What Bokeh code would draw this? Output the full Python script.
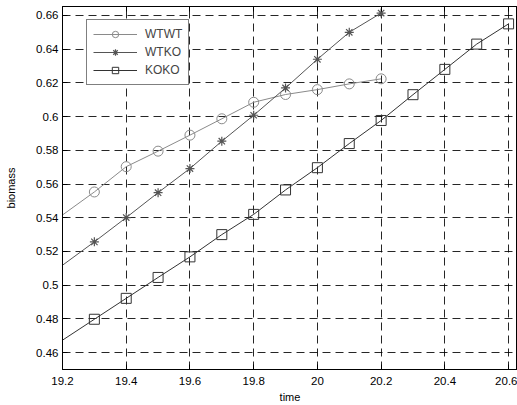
from bokeh.plotting import figure
from bokeh.models import FixedTicker, LinearAxis, Range1d, Legend, LegendItem
from bokeh.embed import file_html
from bokeh.resources import INLINE

time_wtwt = [19.1, 19.3, 19.4, 19.5, 19.6, 19.7, 19.8, 19.9, 20.0, 20.1, 20.2]
wtwt = [0.528, 0.5553, 0.5703, 0.5795, 0.589, 0.5987, 0.6085, 0.6131, 0.616, 0.6194, 0.6224]
time_wtko = [19.1, 19.3, 19.4, 19.5, 19.6, 19.7, 19.8, 19.9, 20.0, 20.1, 20.2]
wtko = [0.498, 0.5257, 0.5401, 0.5549, 0.5692, 0.5854, 0.6008, 0.617, 0.634, 0.650, 0.6614]
time_koko = [19.1, 19.3, 19.4, 19.5, 19.6, 19.7, 19.8, 19.9, 20.0, 20.1, 20.2, 20.3, 20.4, 20.5, 20.6]
koko = [0.455, 0.4798, 0.4922, 0.5046, 0.5168, 0.530, 0.542, 0.5565, 0.5697, 0.584, 0.5977, 0.613, 0.628, 0.643, 0.655]

x_ticks = [19.2, 19.4, 19.6, 19.8, 20.0, 20.2, 20.4, 20.6]
x_labels = ["19.2", "19.4", "19.6", "19.8", "20", "20.2", "20.4", "20.6"]
y_ticks = [0.46, 0.48, 0.50, 0.52, 0.54, 0.56, 0.58, 0.60, 0.62, 0.64, 0.66]
y_labels = ["0.46", "0.48", "0.5", "0.52", "0.54", "0.56", "0.58", "0.6", "0.62", "0.64", "0.66"]

FONT = "Liberation Sans"

p = figure(frame_width=455, frame_height=363,
           x_range=Range1d(19.2, 20.628), y_range=Range1d(0.45, 0.6653),
           output_backend="svg", toolbar_location=None,
           min_border_left=62, min_border_right=0, min_border_top=6, min_border_bottom=0)
p.outline_line_color = "black"
p.outline_line_width = 1
p.background_fill_color = "white"
p.border_fill_color = "white"

for ax in (p.xaxis[0], p.yaxis[0]):
    ax.major_tick_in = 5
    ax.major_tick_out = 0
    ax.minor_tick_in = 0
    ax.minor_tick_out = 0
    ax.axis_line_color = "black"
    ax.major_tick_line_color = "black"
    ax.major_label_text_font = FONT
    ax.major_label_text_font_size = "11.5px"
    ax.major_label_text_color = "black"
    ax.axis_label_text_font = FONT
    ax.axis_label_text_font_size = "11px"
    ax.axis_label_text_font_style = "normal"
    ax.axis_label_text_color = "black"

p.xaxis[0].ticker = FixedTicker(ticks=x_ticks)
p.xaxis[0].major_label_overrides = {t: l for t, l in zip(x_ticks, x_labels)}
p.yaxis[0].ticker = FixedTicker(ticks=y_ticks)
p.yaxis[0].major_label_overrides = {t: l for t, l in zip(y_ticks, y_labels)}
p.xaxis[0].axis_label = "time"
p.yaxis[0].axis_label = "biomass"
p.xaxis[0].axis_label_standoff = 3
p.yaxis[0].axis_label_standoff = 16
p.xaxis[0].major_label_standoff = 7
p.yaxis[0].major_label_standoff = 4

top = LinearAxis(ticker=FixedTicker(ticks=x_ticks), major_label_text_font_size="0px",
                 major_tick_in=5, major_tick_out=0, minor_tick_in=0, minor_tick_out=0,
                 axis_line_color="black", major_label_standoff=0)
top.major_label_overrides = {t: "" for t in x_ticks}
p.add_layout(top, "above")

p.xgrid.ticker = FixedTicker(ticks=x_ticks)
p.ygrid.ticker = FixedTicker(ticks=y_ticks)
for g in (p.xgrid[0], p.ygrid[0]):
    g.grid_line_color = "black"
    g.grid_line_dash = "8 5"
    g.grid_line_width = 1
    g.grid_line_alpha = 0.85

c1, c2, c3 = "#8a8a8a", "#555555", "#333333"
l1 = p.line(time_wtwt, wtwt, line_color=c1, line_width=1)
m1 = p.scatter(time_wtwt, wtwt, marker="circle", size=10, fill_color="white", fill_alpha=0, line_color=c1)
l2 = p.line(time_wtko, wtko, line_color=c2, line_width=1)
m2 = p.scatter(time_wtko, wtko, marker="asterisk", size=9, line_color=c2, line_width=1.2)
l3 = p.line(time_koko, koko, line_color=c3, line_width=1)
m3 = p.scatter(time_koko, koko, marker="square", size=10, fill_color="white", fill_alpha=0, line_color=c3)

legend = Legend(items=[LegendItem(label="WTWT", renderers=[l1, m1]),
                       LegendItem(label="WTKO", renderers=[l2, m2]),
                       LegendItem(label="KOKO", renderers=[l3, m3])],
                location=(24, 284))
legend.border_line_color = "black"
legend.border_line_width = 1
legend.background_fill_color = "white"
legend.background_fill_alpha = 1
legend.label_text_font = FONT
legend.label_text_font_size = "12px"
legend.glyph_width = 44
legend.glyph_height = 16
legend.label_standoff = 8
legend.padding = 6
legend.spacing = 2
legend.margin = 0
legend.label_height = 16
p.add_layout(legend, "center")

open("out.html", "w").write(file_html(p, INLINE))
